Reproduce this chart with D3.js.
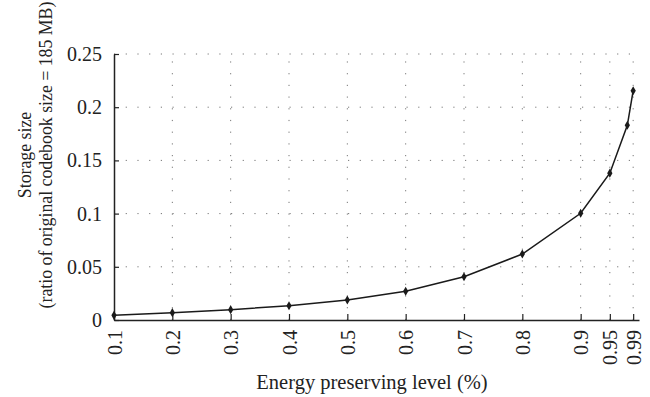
<!DOCTYPE html>
<html><head><meta charset="utf-8">
<script src="https://cdn.jsdelivr.net/npm/d3@7"></script>
<style>body{margin:0;background:#fff}svg{display:block}</style>
</head><body><svg id="c" width="650" height="397"></svg>
<script>
const levels = [0.1,0.2,0.3,0.4,0.5,0.6,0.7,0.8,0.9,0.95,0.98,0.99];
const storage = [0.0044,0.0069,0.0097,0.0134,0.0188,0.027,0.0407,0.062,0.1003,0.138,0.183,0.2155];
const xTicks = [0.1,0.2,0.3,0.4,0.5,0.6,0.7,0.8,0.9,0.95,0.99];
const yTicks = [0,0.05,0.1,0.15,0.2,0.25];
const xLabel = "Energy preserving level (%)";
const yLabel1 = "Storage size";
const yLabel2 = "(ratio of original codebook size = 185 MB)";

const FONT = "'Liberation Serif','Times New Roman',serif";
const svg = d3.select("#c");
const L=114, R=639, T=54, B=320;
const x = d3.scaleLinear().domain([0.1,1.0]).range([L,R]);
const y = d3.scaleLinear().domain([0,0.25]).range([B,T]);
const g = svg.append("g");
g.selectAll(".vg").data(xTicks.slice(1)).join("line")
 .attr("x1",d=>x(d)).attr("x2",d=>x(d)).attr("y1",B).attr("y2",T)
 .attr("stroke","#777").attr("stroke-width",1).attr("stroke-dasharray","1.2,10.5");
g.selectAll(".hg").data(yTicks.slice(1)).join("line")
 .attr("x1",L).attr("x2",R).attr("y1",d=>y(d)).attr("y2",d=>y(d))
 .attr("stroke","#777").attr("stroke-width",1).attr("stroke-dasharray","1.2,10.5");
const xa = svg.append("g").attr("transform",`translate(0,${B})`)
 .call(d3.axisBottom(x).tickValues(xTicks).tickFormat(d=>String(d)).tickSizeInner(-6).tickSizeOuter(0).tickPadding(10));
xa.attr("font-family",FONT);
xa.select(".domain").attr("stroke","#222").attr("stroke-width",1.5);
xa.selectAll(".tick line").attr("stroke","#222").attr("stroke-width",1.2);
xa.selectAll(".tick text").attr("font-size",20).attr("fill","#222").attr("transform","rotate(-90)")
 .attr("text-anchor","end").attr("dy","0.35em").attr("x",-10).attr("y",0);
const ya = svg.append("g").attr("transform",`translate(${L},0)`)
 .call(d3.axisLeft(y).tickValues(yTicks).tickFormat(d=>String(d)).tickSizeInner(-5).tickSizeOuter(0).tickPadding(12));
ya.attr("font-family",FONT);
ya.select(".domain").attr("stroke","#222").attr("stroke-width",1.5);
ya.selectAll(".tick line").attr("stroke","#222").attr("stroke-width",1.2);
ya.selectAll(".tick text").attr("font-size",20).attr("fill","#222");
const data = levels.map((l,i)=>({l,v:storage[i]}));
svg.append("path").datum(data)
 .attr("d",d3.line().x(d=>x(d.l)).y(d=>y(d.v)))
 .attr("fill","none").attr("stroke","#1a1a1a").attr("stroke-width",1.5);
svg.selectAll(".m").data(data).join("path")
 .attr("transform",d=>`translate(${x(d.l)},${y(d.v)})`)
 .attr("d",d3.symbol(d3.symbolDiamond,24)()).attr("fill","#1a1a1a");
const lab = svg.append("g").attr("font-family",FONT).attr("fill","#222");
lab.append("text").attr("x",372).attr("y",389).attr("text-anchor","middle").attr("font-size",20.5).text(xLabel);
lab.append("text").attr("transform","translate(31,155) rotate(-90)").attr("text-anchor","middle").attr("font-size",17.8).text(yLabel1);
lab.append("text").attr("transform","translate(52,155) rotate(-90)").attr("text-anchor","middle").attr("font-size",17.8).text(yLabel2);
</script></body></html>
